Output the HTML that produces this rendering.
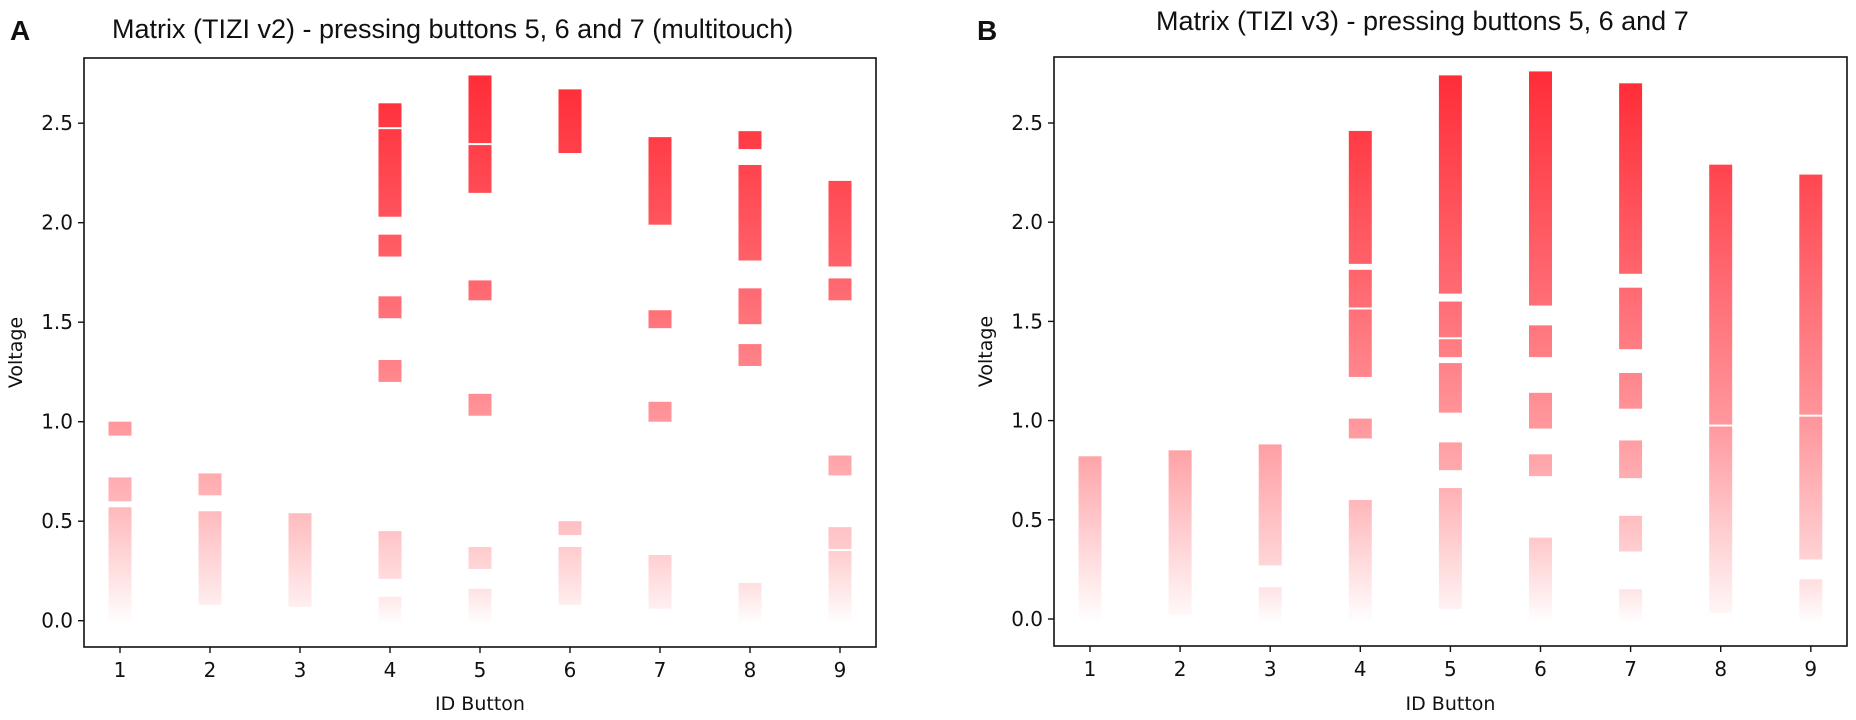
<!DOCTYPE html>
<html><head><meta charset="utf-8">
<style>
html,body{margin:0;padding:0;background:#fff;}
svg{display:block;}
text{font-family:"DejaVu Sans","Liberation Sans",sans-serif;fill:#111;}
.title{font-family:"Liberation Sans",sans-serif;font-size:27px;}
.panel{font-family:"Liberation Sans",sans-serif;font-size:28px;font-weight:bold;}
.tick{font-size:20px;}
.alab{font-size:19px;}
</style></head>
<body>
<svg id="fig" width="1856" height="720" viewBox="0 0 1856 720">
<text class="panel" x="10" y="40">A</text>
<text class="title" x="112" y="38">Matrix (TIZI v2) - pressing buttons 5, 6 and 7 (multitouch)</text>
<text class="panel" x="977" y="40">B</text>
<text class="title" x="1156" y="30">Matrix (TIZI v3) - pressing buttons 5, 6 and 7</text>
<g id="pa"></g>
<g id="pb"></g>
</svg>
<script>
// Button ids
const buttons = [1,2,3,4,5,6,7,8,9];
const yTicks = [0.0,0.5,1.0,1.5,2.0,2.5];
const yTickLabels = ["0.0","0.5","1.0","1.5","2.0","2.5"];
// Panel A voltage segments per button [low, high]
const segA1 = [[0.93,1.0],[0.6,0.72],[-0.02,0.57]];
const segA2 = [[0.63,0.74],[0.08,0.55]];
const segA3 = [[0.07,0.54]];
const segA4 = [[2.48,2.6],[2.03,2.47],[1.83,1.94],[1.52,1.63],[1.2,1.31],[0.21,0.45],[-0.02,0.12]];
const segA5 = [[2.4,2.74],[2.15,2.39],[1.61,1.71],[1.03,1.14],[0.26,0.37],[-0.02,0.16]];
const segA6 = [[2.35,2.67],[0.43,0.5],[0.08,0.37]];
const segA7 = [[1.99,2.43],[1.47,1.56],[1.0,1.1],[0.06,0.33]];
const segA8 = [[2.37,2.46],[1.81,2.29],[1.49,1.67],[1.28,1.39],[-0.02,0.19]];
const segA9 = [[1.78,2.21],[1.61,1.72],[0.73,0.83],[0.36,0.47],[-0.02,0.35]];
// Panel B voltage segments per button
const segB1 = [[-0.02,0.82]];
const segB2 = [[0.02,0.85]];
const segB3 = [[0.27,0.88],[-0.02,0.16]];
const segB4 = [[1.79,2.46],[1.57,1.76],[1.22,1.56],[0.91,1.01],[-0.02,0.6]];
const segB5 = [[1.64,2.74],[1.42,1.6],[1.32,1.41],[1.04,1.29],[0.75,0.89],[0.05,0.66]];
const segB6 = [[1.58,2.76],[1.32,1.48],[0.96,1.14],[0.72,0.83],[-0.02,0.41]];
const segB7 = [[1.74,2.7],[1.36,1.67],[1.06,1.24],[0.71,0.9],[0.34,0.52],[-0.02,0.15]];
const segB8 = [[0.98,2.29],[0.03,0.97]];
const segB9 = [[1.03,2.24],[0.3,1.02],[-0.02,0.2]];
const panelA = [segA1,segA2,segA3,segA4,segA5,segA6,segA7,segA8,segA9];
const panelB = [segB1,segB2,segB3,segB4,segB5,segB6,segB7,segB8,segB9];

const NS="http://www.w3.org/2000/svg";
function mk(tag,attrs,parent){const e=document.createElementNS(NS,tag);for(const k in attrs)e.setAttribute(k,attrs[k]);parent.appendChild(e);return e;}
function alpha(v){return Math.pow(Math.max(0,Math.min(1,v/2.7)),0.7);}
const defs=mk('defs',{},document.getElementById('fig'));
let gid=0;

function drawPanel(g,box,data,prefix){
  const {L,R,T,B,x0,dx,y0,py}=box;
  const xs=b=>x0+(b-1)*dx;
  const ys=v=>y0-v*py;
  data.forEach((segs,i)=>{
    segs.forEach((s,j)=>{
      const id='g'+(gid++);
      const lg=mk('linearGradient',{id:id,x1:0,y1:1,x2:0,y2:0},defs);
      mk('stop',{offset:0,'stop-color':'rgb(255,45,56)','stop-opacity':alpha(s[0]).toFixed(3)},lg);
      mk('stop',{offset:1,'stop-color':'rgb(255,45,56)','stop-opacity':alpha(s[1]).toFixed(3)},lg);
      const r=mk('rect',{x:xs(buttons[i])-11.5,y:ys(s[1]),width:23,height:Math.max(1,ys(s[0])-ys(s[1])),fill:'url(#'+id+')'},g);
      
      
    });
  });
  const f=mk('rect',{x:L,y:T,width:R-L,height:B-T,fill:'none',stroke:'#111','stroke-width':1.6},g);
  
  
  yTicks.forEach((v,i)=>{
    const y=ys(v);
    mk('line',{x1:L-6,x2:L,y1:y,y2:y,stroke:'#111','stroke-width':1.4},g);
    const t=mk('text',{x:L-11,y:y+7,'text-anchor':'end',class:'tick'},g);
    t.textContent=yTickLabels[i];
    
    
  });
  buttons.forEach(b=>{
    const x=xs(b);
    mk('line',{x1:x,x2:x,y1:B,y2:B+6,stroke:'#111','stroke-width':1.4},g);
    const t=mk('text',{x:x,y:B+30,'text-anchor':'middle',class:'tick'},g);
    t.textContent=String(b);
    
    
  });
  const xl=mk('text',{x:(L+R)/2,y:710,'text-anchor':'middle',class:'alab'},g);
  xl.textContent='ID Button';
  
  
  const yl=mk('text',{x:0,y:0,'text-anchor':'middle',class:'alab',transform:'translate('+(L-62)+','+((T+B)/2)+') rotate(-90)'},g);
  yl.textContent='Voltage';
  
  
}
drawPanel(document.getElementById('pa'),{L:84,R:876,T:58,B:647,x0:120,dx:90,y0:620.7,py:199},panelA,'panel-a');
drawPanel(document.getElementById('pb'),{L:1054,R:1847,T:57,B:646,x0:1090,dx:90.1,y0:619,py:198.4},panelB,'panel-b');
</script>
</body></html>
